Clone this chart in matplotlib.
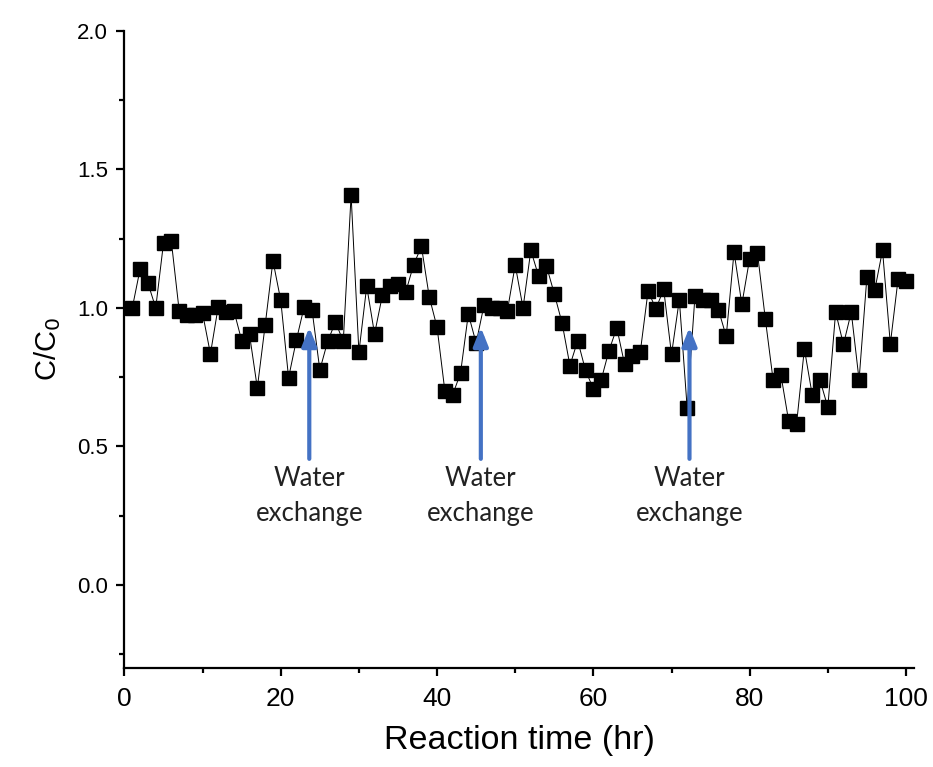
import matplotlib
matplotlib.use("Agg")
import matplotlib.pyplot as plt
from matplotlib.ticker import MultipleLocator, FormatStrFormatter

# reaction time (hr) and normalised concentration
hours = list(range(1, 101))
c_ratio = [
    1.00, 1.14, 1.09, 1.00, 1.235, 1.24, 0.99, 0.975, 0.975, 0.98,
    0.834, 1.005, 0.985, 0.99, 0.882, 0.904, 0.711, 0.937, 1.17, 1.027,
    0.748, 0.884, 1.005, 0.993, 0.776, 0.879, 0.949, 0.879, 1.407, 0.84,
    1.078, 0.906, 1.045, 1.078, 1.087, 1.058, 1.156, 1.222, 1.04, 0.93,
    0.70, 0.687, 0.764, 0.978, 0.873, 1.009, 1.00, 1.00, 0.99, 1.155,
    1.00, 1.208, 1.114, 1.151, 1.051, 0.945, 0.792, 0.882, 0.774, 0.708,
    0.74, 0.846, 0.928, 0.796, 0.828, 0.84, 1.061, 0.997, 1.067, 0.832,
    1.03, 0.639, 1.042, 1.027, 1.03, 0.994, 0.897, 1.202, 1.013, 1.178,
    1.198, 0.961, 0.74, 0.758, 0.59, 0.581, 0.852, 0.687, 0.74, 0.641,
    0.985, 0.868, 0.985, 0.74, 1.111, 1.063, 1.208, 0.87, 1.106, 1.097,
]

# water exchange events (hr)
exchange_times = [23.65, 45.6, 72.3]
exchange_label = "Water\nexchange"

fig = plt.figure(figsize=(9.33, 7.67), dpi=100)
ax = fig.add_axes([0.1334, 0.1291, 0.8460, 0.8306])

ax.plot(hours, c_ratio, color="black", lw=0.7, marker="s", markersize=9.5,
        markerfacecolor="black", markeredgecolor="black")

# arrows + labels
for t in exchange_times:
    ax.annotate("", xy=(t, 0.93), xytext=(t, 0.455),
                arrowprops=dict(arrowstyle="-|>,head_length=0.55,head_width=0.22",
                                lw=3, color="#4472C4", mutation_scale=20,
                                shrinkA=0, shrinkB=0))
    ax.text(t, 0.428, exchange_label, ha="center", va="top", fontsize=18.5,
            family="Lato", color="#222222", linespacing=1.5)

ax.set_xlim(0, 101)
ax.set_ylim(-0.3, 2.0)
ax.xaxis.set_major_locator(MultipleLocator(20))
ax.xaxis.set_minor_locator(MultipleLocator(10))
ax.yaxis.set_major_locator(MultipleLocator(0.5))
ax.yaxis.set_minor_locator(MultipleLocator(0.25))
ax.yaxis.set_major_formatter(FormatStrFormatter("%.1f"))

for side in ["top", "right"]:
    ax.spines[side].set_visible(False)
for side in ["left", "bottom"]:
    ax.spines[side].set_linewidth(1.6)

ax.tick_params(which="major", direction="out", length=6, width=1.6)
ax.tick_params(which="minor", direction="out", length=3.5, width=1.6)
ax.tick_params(axis="x", labelsize=19, pad=8)
ax.tick_params(axis="y", labelsize=16, pad=6)
for lab in ax.get_xticklabels() + ax.get_yticklabels():
    lab.set_family("Liberation Sans")

ax.set_xlabel("Reaction time (hr)", fontsize=24.5, family="Liberation Sans", labelpad=10)
ax.set_ylabel("C/C$_0$", fontsize=21, family="Liberation Sans", labelpad=10)

fig.savefig("out.png", dpi=100)
